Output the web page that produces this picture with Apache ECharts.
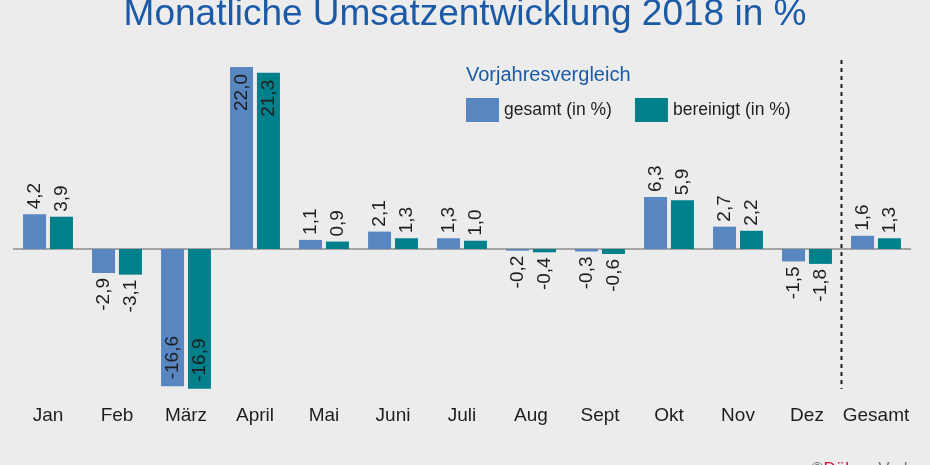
<!DOCTYPE html>
<html>
<head>
<meta charset="utf-8">
<script src="https://cdn.jsdelivr.net/npm/echarts@6/dist/echarts.min.js"></script>
<style>
html,body{margin:0;padding:0;background:#ececec;}
#c{width:930px;height:465px;}
</style>
</head>
<body>
<div id="c"></div>
<script>
const categories = ['Jan','Feb','März','April','Mai','Juni','Juli','Aug','Sept','Okt','Nov','Dez','Gesamt'];
const gesamt    = [4.2, -2.9, -16.6, 22.0, 1.1, 2.1, 1.3, -0.2, -0.3, 6.3, 2.7, -1.5, 1.6];
const bereinigt = [3.9, -3.1, -16.9, 21.3, 0.9, 1.3, 1.0, -0.4, -0.6, 5.9, 2.2, -1.8, 1.3];
const seriesNames = ['gesamt (in %)', 'bereinigt (in %)'];
const titleText = 'Monatliche Umsatzentwicklung 2018 in %';
const legendTitle = 'Vorjahresvergleich';

const REG = '"Liberation Sans", Arial, sans-serif';

function fmt(v){ return v.toFixed(1).replace('.', ','); }
function item(v){
  const big = Math.abs(v) > 15;
  const pos = v >= 0 ? (big ? 'insideTop' : 'top') : (big ? 'insideBottom' : 'bottom');
  const align = (pos === 'top' || pos === 'insideBottom') ? 'left' : 'right';
  return {
    value: v,
    label: { position: pos, align: align, verticalAlign: 'middle', distance: big ? 7 : 5 }
  };
}

const chart = echarts.init(document.getElementById('c'), null, {renderer:'canvas'});
const labelBase = {
  show: true, rotate: 90, color: '#1e1e1e', fontSize: 19, fontFamily: REG,
  formatter: p => fmt(p.value)
};
const option = {
  backgroundColor: '#ececec',
  animation: false,
  title: [
    { text: titleText, left: 'center', top: -4, padding: 0,
      textStyle: { fontSize: 37, fontWeight: 'normal', color: '#1a5aa6', fontFamily: REG } },
    { text: legendTitle, left: 466, top: 65, padding: 0,
      textStyle: { fontSize: 20, fontWeight: 'normal', color: '#1a5aa6', fontFamily: REG } }
  ],
  legend: {
    left: 466, top: 98, padding: 0, itemWidth: 33, itemHeight: 24, itemGap: 23, icon: 'rect',
    data: seriesNames,
    textStyle: { fontSize: 17.5, color: '#1e1e1e', fontFamily: REG }
  },
  grid: { left: 13.5, right: 19.5, top: 42.2, bottom: 67.1, containLabel: false },
  xAxis: [
    { type: 'category', data: categories, position: 'top',
      axisLine: { onZero: true, lineStyle: { color: '#8c8c8c', width: 1.5 } },
      axisTick: { show: false }, axisLabel: { show: false }, splitLine: { show: false } },
    { type: 'category', data: categories, position: 'bottom',
      axisLine: { show: false }, axisTick: { show: false },
      axisLabel: { interval: 0, margin: 8, fontSize: 19, color: '#1e1e1e', fontFamily: REG } }
  ],
  yAxis: { type: 'value', min: -18, max: 25, show: false, splitLine: { show: false } },
  series: [
    { name: seriesNames[0], type: 'bar', barWidth: 23, barGap: '17%',
      itemStyle: { color: '#5886c0' }, label: labelBase, data: gesamt.map(item) },
    { name: seriesNames[1], type: 'bar', barWidth: 23, barGap: '17%',
      itemStyle: { color: '#00808a' }, label: labelBase, data: bereinigt.map(item) }
  ]
};
chart.setOption(option);

const xDez = chart.convertToPixel({ xAxisIndex: 0 }, categories[11]);
const xGes = chart.convertToPixel({ xAxisIndex: 0 }, categories[12]);
const xm = Math.round((xDez + xGes) / 2) - 0.5;
chart.setOption({
  graphic: [
    { type: 'line', shape: { x1: xm, y1: 60, x2: xm, y2: 389 },
      style: { stroke: '#1e1e1e', lineWidth: 2, lineDash: [4, 4] } },
    { type: 'text', left: 811, top: 461,
      style: { text: '©{r|Dähne} Verlag', fill: '#777', font: '17px ' + REG,
        rich: { r: { fill: '#d0103a', fontSize: 17, fontFamily: REG } } } }
  ]
});
</script>
</body>
</html>
